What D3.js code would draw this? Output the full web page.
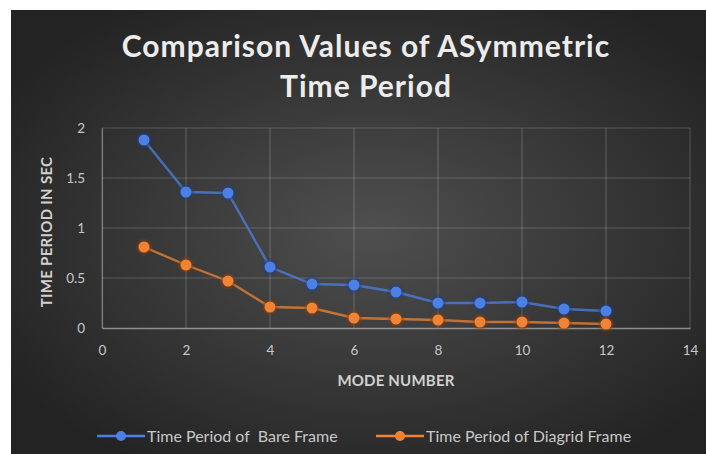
<!DOCTYPE html>
<html>
<head>
<meta charset="utf-8">
<script src="https://cdn.jsdelivr.net/npm/d3@7"></script>
<style>
  html, body { margin: 0; padding: 0; background: #fff; }
  svg { display: block; }
</style>
</head>
<body>
<div id="chart"></div>
<script>
// data
const modes = [1, 2, 3, 4, 5, 6, 7, 8, 9, 10, 11, 12];
const bareFrame = [1.88, 1.36, 1.35, 0.61, 0.44, 0.43, 0.36, 0.25, 0.25, 0.26, 0.19, 0.17];
const diagridFrame = [0.81, 0.63, 0.47, 0.21, 0.20, 0.10, 0.09, 0.08, 0.06, 0.06, 0.05, 0.04];
const xTicks = [0, 2, 4, 6, 8, 10, 12, 14];
const yTicks = [0, 0.5, 1, 1.5, 2];
const seriesNames = ["Time Period of  Bare Frame", "Time Period of Diagrid Frame"];

const W = 707, H = 454;
const margin = {top: 128, right: 17, bottom: 126, left: 102};
const font = "Lato, 'Open Sans', sans-serif";

const svg = d3.select("#chart").append("svg")
  .attr("width", W)
  .attr("height", H);

const defs = svg.append("defs");
const grad = defs.append("radialGradient")
  .attr("id", "bg")
  .attr("cx", "52%").attr("cy", "50%").attr("r", "62%");
grad.append("stop").attr("offset", "0%").attr("stop-color", "#4f4f4f");
grad.append("stop").attr("offset", "100%").attr("stop-color", "#232323");

const glow = defs.append("filter").attr("id", "glow")
  .attr("x", "-50%").attr("y", "-50%").attr("width", "200%").attr("height", "200%");
glow.append("feGaussianBlur").attr("stdDeviation", 1.2);

// background panel (white strip at top and left as in the picture)
svg.append("rect")
  .attr("x", 11).attr("y", 10)
  .attr("width", W - 12).attr("height", H - 10)
  .attr("fill", "url(#bg)");

const width = W - margin.left - margin.right;
const height = H - margin.top - margin.bottom;

const x = d3.scaleLinear().domain([0, 14]).range([0, width]);
const y = d3.scaleLinear().domain([0, 2]).range([height, 0]);

const g = svg.append("g")
  .attr("transform", "translate(" + margin.left + "," + margin.top + ")");

// gridlines
g.append("g")
  .selectAll("line.h")
  .data(yTicks.slice(1))
  .enter().append("line")
    .attr("x1", 0).attr("x2", width)
    .attr("y1", d => y(d)).attr("y2", d => y(d))
    .attr("stroke", "rgba(255,255,255,0.18)")
    .attr("stroke-width", 1.2);

g.append("g")
  .selectAll("line.v")
  .data(xTicks)
  .enter().append("line")
    .attr("x1", d => x(d)).attr("x2", d => x(d))
    .attr("y1", 0).attr("y2", height)
    .attr("stroke", "rgba(255,255,255,0.18)")
    .attr("stroke-width", 1.2);

// axes
const xAxis = g.append("g")
  .attr("transform", "translate(0," + height + ")")
  .call(d3.axisBottom(x).tickValues(xTicks).tickSize(0).tickPadding(17));
xAxis.select(".domain").attr("stroke", "rgba(255,255,255,0.45)").attr("stroke-width", 1.5);

const yAxis = g.append("g")
  .call(d3.axisLeft(y).tickValues(yTicks).tickFormat(d3.format("")).tickSize(0).tickPadding(17));
yAxis.select(".domain").attr("stroke", "rgba(255,255,255,0.3)").attr("stroke-width", 1.2);

svg.selectAll(".tick text")
  .attr("fill", "#c8c8c8")
  .style("font-family", font)
  .style("font-size", "13.5px");

// series
const line = d3.line()
  .x((d, i) => x(modes[i]))
  .y(d => y(d));

function drawSeries(values, color, dark) {
  g.append("path")
    .datum(values)
    .attr("fill", "none")
    .attr("stroke", color)
    .attr("stroke-opacity", 0.75)
    .attr("stroke-width", 2.4)
    .attr("d", line);

  g.selectAll(null)
    .data(values)
    .enter().append("circle")
      .attr("cx", (d, i) => x(modes[i]))
      .attr("cy", d => y(d))
      .attr("r", 7.5)
      .attr("fill", dark)
      .attr("opacity", 0.6)
      .attr("filter", "url(#glow)");

  g.selectAll(null)
    .data(values)
    .enter().append("circle")
      .attr("cx", (d, i) => x(modes[i]))
      .attr("cy", d => y(d))
      .attr("r", 5.5)
      .attr("fill", color);
}

drawSeries(bareFrame, "#4d80e4", "#1f3f86");
drawSeries(diagridFrame, "#f08434", "#8a3e0c");

// title
const title = svg.append("text")
  .attr("text-anchor", "middle")
  .attr("fill", "#ececec")
  .style("font-family", font)
  .style("font-weight", "bold")
  .style("font-size", "30px")
  .style("letter-spacing", "1px");
title.append("tspan").attr("x", 366).attr("y", 57).text("Comparison Values of ASymmetric");
title.append("tspan").attr("x", 366).attr("y", 97).text("Time Period");

// axis titles
svg.append("text")
  .attr("x", margin.left + width / 2)
  .attr("y", 386)
  .attr("text-anchor", "middle")
  .attr("fill", "#d0d0d0")
  .style("font-family", font)
  .style("font-weight", "bold")
  .style("font-size", "15px")
  .style("letter-spacing", "0.2px")
  .text("MODE NUMBER");

svg.append("text")
  .attr("transform", "translate(52," + (margin.top + height / 2 + 4) + ") rotate(-90)")
  .attr("text-anchor", "middle")
  .attr("fill", "#d0d0d0")
  .style("font-family", font)
  .style("font-weight", "bold")
  .style("font-size", "15px")
  .style("letter-spacing", "0.3px")
  .text("TIME PERIOD IN SEC");

// legend
const legendColors = ["#4d80e4", "#f08434"];
const legendX = [97, 376];
const legend = svg.append("g").selectAll("g")
  .data(seriesNames)
  .enter().append("g")
    .attr("transform", (d, i) => "translate(" + legendX[i] + ",436)");

legend.append("line")
  .attr("x1", 0).attr("x2", 48)
  .attr("stroke", (d, i) => legendColors[i])
  .attr("stroke-width", 2.4);
legend.append("circle")
  .attr("cx", 24).attr("r", 5)
  .attr("fill", (d, i) => legendColors[i]);
legend.append("text")
  .attr("x", 50).attr("y", 6)
  .attr("fill", "#c8c8c8")
  .style("font-family", font)
  .style("font-size", "16px")
  .style("white-space", "pre")
  .text(d => d);
</script>
</body>
</html>
